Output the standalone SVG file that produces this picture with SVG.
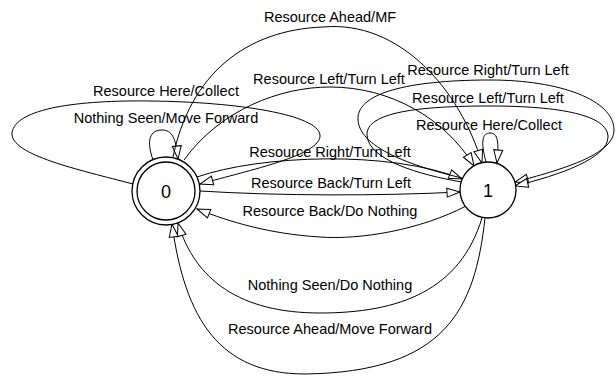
<svg xmlns="http://www.w3.org/2000/svg" width="616" height="376" viewBox="0 0 616 376">
<style>
.e{fill:none;stroke:#000;stroke-width:1;marker-end:url(#arr)}
.l{font-family:"Liberation Sans",Arial,sans-serif;font-size:14.5px;fill:#000;text-anchor:middle}
.n{fill:#fff;stroke:#000;stroke-width:1.3}
.nl{font-family:"Liberation Sans",Arial,sans-serif;font-size:18px;fill:#000;text-anchor:middle}
</style>
<defs>
<marker id="arr" viewBox="-1 -1 15 11" refX="13" refY="4.5" markerWidth="15" markerHeight="11" markerUnits="userSpaceOnUse" orient="auto" overflow="visible">
<path d="M0,0 L13,4.5 L0,9 Z" fill="#fff" stroke="#000" stroke-width="1"/>
</marker>
</defs>
<rect width="616" height="376" fill="#fff"/>
<g id="connectors">
<g id="e0-loop-nothing"><path class="e" d="M153,160 C146,140 150,130 162,130 C172,130 176,138 178,159"/><text class="l" x="166" y="123">Nothing Seen/Move Forward</text></g>
<g id="e0-loop-here"><path class="e" d="M133,184 C80,170 10,155 12,133 C15,108 80,100 150,101 C240,102 318,115 320,135 C322,155 250,170 200,184"/><text class="l" x="166" y="96">Resource Here/Collect</text></g>
<g id="e01-ahead"><path class="e" d="M173,157 C190,75 245,30 323,27 C400,20 460,90 482,163"/><text class="l" x="330" y="22">Resource Ahead/MF</text></g>
<g id="e01-left"><path class="e" d="M184,160 C220,110 280,87 330,87 C390,87 445,118 474,166"/><text class="l" x="329" y="84">Resource Left/Turn Left</text></g>
<g id="e01-right"><path class="e" d="M197,177 C260,155 390,150 462,179"/><text class="l" x="330" y="157">Resource Right/Turn Left</text></g>
<g id="e01-back"><path class="e" d="M200,191 C280,196 380,196 460,192"/><text class="l" x="331" y="188">Resource Back/Turn Left</text></g>
<g id="e1-loop-right"><path class="e" d="M462,178 C420,168 360,150 358,120 C356,90 420,80 490,80 C560,80 614,100 614,130 C614,155 560,170 515,182"/><text class="l" x="488" y="75">Resource Right/Turn Left</text></g>
<g id="e1-loop-left"><path class="e" d="M462,182 C420,175 368,160 367,135 C366,112 420,106 490,106 C560,106 608,115 608,137 C608,158 560,175 515,186"/><text class="l" x="488" y="103">Resource Left/Turn Left</text></g>
<g id="e1-loop-here"><path class="e" d="M486,162 C480,140 483,133 490,133 C498,133 499,142 497,163"/><text class="l" x="489" y="130">Resource Here/Collect</text></g>
<g id="e10-back"><path class="e" d="M466,206 C420,230 360,240 320,237 C270,234 230,222 197,209"/><text class="l" x="330" y="216">Resource Back/Do Nothing</text></g>
<g id="e10-nothing"><path class="e" d="M482,218 C460,290 400,313 320,313 C240,313 195,280 178,223"/><text class="l" x="330" y="290">Nothing Seen/Do Nothing</text></g>
<g id="e10-ahead"><path class="e" d="M485,218 C475,310 445,372 305,374 C220,374 185,320 172,224"/><text class="l" x="330" y="334">Resource Ahead/Move Forward</text></g>
</g>
<g id="node0">
<circle class="n" cx="166" cy="191" r="34"/>
<circle class="n" cx="166" cy="191" r="29"/>
<text class="nl" x="166" y="198">0</text>
</g>
<g id="node1">
<circle class="n" cx="488" cy="190" r="28"/>
<text class="nl" x="488" y="197">1</text>
</g>
</svg>
